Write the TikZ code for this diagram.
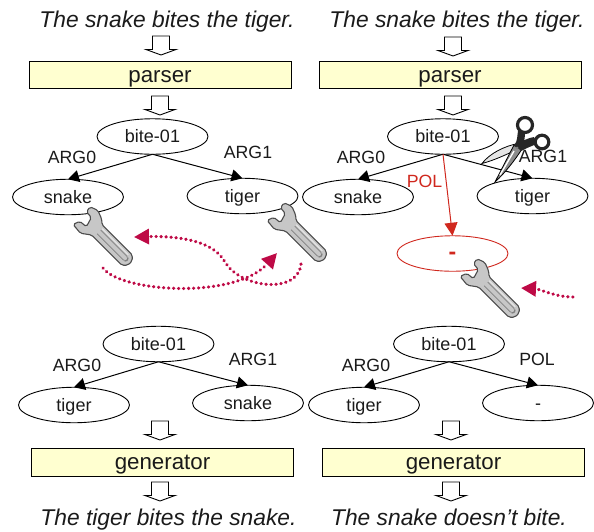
\documentclass[tikz,border=0pt]{standalone}
\usepackage{fontspec}
\setmainfont{Liberation Sans}
\usetikzlibrary{shapes.geometric,arrows.meta}
\definecolor{redline}{HTML}{D0281E}
\definecolor{dotred}{HTML}{BE0A46}
\definecolor{boxfill}{HTML}{FFFFD0}
\definecolor{inkt}{HTML}{1A1A1A}
\tikzset{
  amr/.style={draw=black,line width=0.9pt,ellipse,minimum width=111pt,minimum height=35.5pt,inner sep=0pt,outer sep=0pt,text=inkt,text height=13pt,text depth=0.4pt,font=\fontsize{18}{18}\selectfont},
  amrred/.style={amr,draw=redline,text=redline,font=\fontsize{23}{23}\selectfont\bfseries},
  procbox/.style={draw=black,line width=1pt,fill=boxfill,minimum width=262pt,minimum height=27.5pt,inner sep=0pt,text=inkt,text height=16pt,text depth=1.4pt,font=\fontsize{22.3}{22.3}\selectfont},
  sentence/.style={inner sep=0pt,anchor=base,text=inkt,font=\fontsize{22.8}{22.8}\selectfont\itshape},
  rel/.style={inner sep=0pt,text=inkt,text height=13pt,text depth=0pt,font=\fontsize{17.7}{17.7}\selectfont},
  edge/.style={line width=1pt,-{Triangle[length=11pt,width=12pt]}},
  rededge/.style={line width=1pt,draw=redline,-{Triangle[length=13pt,width=13pt,fill=redline]}},
  dotarrow/.style={draw=dotred,line width=3.3pt,line cap=round,dash pattern=on 0.3pt off 4.7pt,-{Triangle[length=15pt,width=15pt,fill=dotred,line cap=butt]}},
  blockarrow/.pic={\draw[line width=0.9pt,fill=white,line join=miter] (-8.5,0) -- (8.5,0) -- (8.5,13.5) -- (15,13.5) -- (0,19) -- (-15,13.5) -- (-8.5,13.5) -- cycle;},
  wrench/.pic={
    \draw[draw=black!70,fill=black!22,line width=1.1pt,rounded corners=1.8pt]
      (-9,-5.5) -- (-1.5,-4.8) -- (1.5,5.2) -- (-7,6) -- (-9.5,13) -- (2,14) -- (11,7.3) -- (54,7.3) -- (58,3) -- (58,-3) -- (54,-7.3) -- (11,-7.3) -- (7,-11) -- (-2,-14.5) -- (-10,-11.5) -- cycle;
    \draw[draw=black!50,line width=0.7pt,rounded corners=2pt] (14,-2.6) -- (53,-2.6) -- (54.5,0) -- (53,2.6) -- (14,2.6);
    \draw[draw=black!8,line width=0.9pt] (14,-4.6) -- (51,-4.6);
  }
}
\begin{document}
\begin{tikzpicture}[x=1pt,y=-1pt]
\useasboundingbox (0,0) rectangle (594,531);
% sentences
\node[sentence] (s1) at (167,27) {The snake bites the tiger.};
\node[sentence] (s2) at (457,27) {The snake bites the tiger.};
\node[sentence] (s3) at (168.5,525) {The tiger bites the snake.};
\node[sentence] (s4) at (449,525) {The snake doesn’t bite.};
% boxes
\node[procbox] (p1) at (160,75) {parser};
\node[procbox] (p2) at (450,75) {parser};
\node[procbox] (g1) at (162.5,462.5) {generator};
\node[procbox] (g2) at (453.5,462.5) {generator};
% block arrows
\foreach \x/\y in {161/36,453/37,160/96,453/96,160/421,451/421,160/482,451/482}
  \pic at (\x,\y) {blockarrow};
% graph 1
\node[amr] (b1) at (152.5,136.5) {bite-01};
\node[amr] (n1) at (68,197) {snake};
\node[amr] (t1) at (242.5,196) {tiger};
\draw[edge] (b1.south) -- (n1.north);
\draw[edge] (b1.south) -- (t1.north);
\node[rel] (l1) at (72,157) {ARG0};
\node[rel] (l2) at (248,152) {ARG1};
% graph 2
\node[amr] (b2) at (443,136.5) {bite-01};
\node[amr] (n2) at (358,197) {snake};
\node[amr] (t2) at (532.5,196) {tiger};
\node[amrred] (m2) at (452.5,253.5) {-};
\draw[edge] (b2.south) -- (n2.north);
\draw[edge] (b2.south) -- (t2.north);
\draw[rededge] (b2.south) -- (m2.north);
\node[rel] (l3) at (361,157) {ARG0};
\node[rel] (l4) at (543,156) {ARG1};
\node[rel,text=redline] (l5) at (424.5,181) {POL};
% graph 3
\node[amr] (b3) at (158.5,344) {bite-01};
\node[amr] (t3) at (74,405) {tiger};
\node[amr] (n3) at (248,403) {snake};
\draw[edge] (b3.south) -- (t3.north);
\draw[edge] (b3.south) -- (n3.north);
\node[rel] (l6) at (77,365) {ARG0};
\node[rel] (l7) at (253,359) {ARG1};
% graph 4
\node[amr] (b4) at (449,344) {bite-01};
\node[amr] (t4) at (364,405) {tiger};
\node[amr] (m4) at (538,403) {-};
\draw[edge] (b4.south) -- (t4.north);
\draw[edge] (b4.south) -- (m4.north);
\node[rel] (l8) at (366,365) {ARG0};
\node[rel] (l9) at (537,359) {POL};
% wrenches
\pic[shift={(89,222)},rotate=-45] {wrench};
\pic[shift={(283,218)},rotate=-45] {wrench};
\pic[shift={(476,274)},rotate=-45] {wrench};
% dotted arrows
\coordinate (d1a) at (103,268);
\coordinate (d1b) at (277,253);
\coordinate (d2a) at (301,264);
\coordinate (d2b) at (134,237);
\coordinate (d3a) at (573,297);
\coordinate (d3b) at (521,288);
\draw[dotarrow] (d1a) .. controls (120,292) and (235,300) .. (d1b);
\draw[dotarrow] (d2a) .. controls (298,295) and (240,288) .. (225,262) .. controls (212,238) and (170,236) .. (d2b);
\draw[dotarrow] (d3a) .. controls (555,297) and (540,289) .. (d3b);
% scissors
\fill[black!10,draw=black,line width=0.8pt] (482,163.5) .. controls (490,153) and (505,146) .. (518,143.5) -- (514,151) .. controls (505,155) and (495,160) .. cycle;
\fill[black!45,draw=black,line width=0.8pt] (495,182) -- (514,145) -- (522,149) .. controls (515,160) and (505,173) .. cycle;
\draw[white,line width=1.4pt] (500,175) -- (514,151);
\fill[black!85] (514,146) .. controls (518,140) and (517,136) .. (518,131) -- (525,133) .. controls (525,140) and (523,146) .. (521,150) -- cycle;
\fill[black!85] (515,145) .. controls (522,141) and (528,138) .. (534,137) -- (537,144) .. controls (531,146) and (525,149) .. (521,151) -- cycle;
\draw[black!85,fill=white,line width=3.2pt] (525,125) circle (7.5);
\draw[black!85,fill=white,line width=3.2pt] (542,142) circle (6.8);
\fill[black!50] (517,148) circle (1.5);
\end{tikzpicture}
\end{document}
